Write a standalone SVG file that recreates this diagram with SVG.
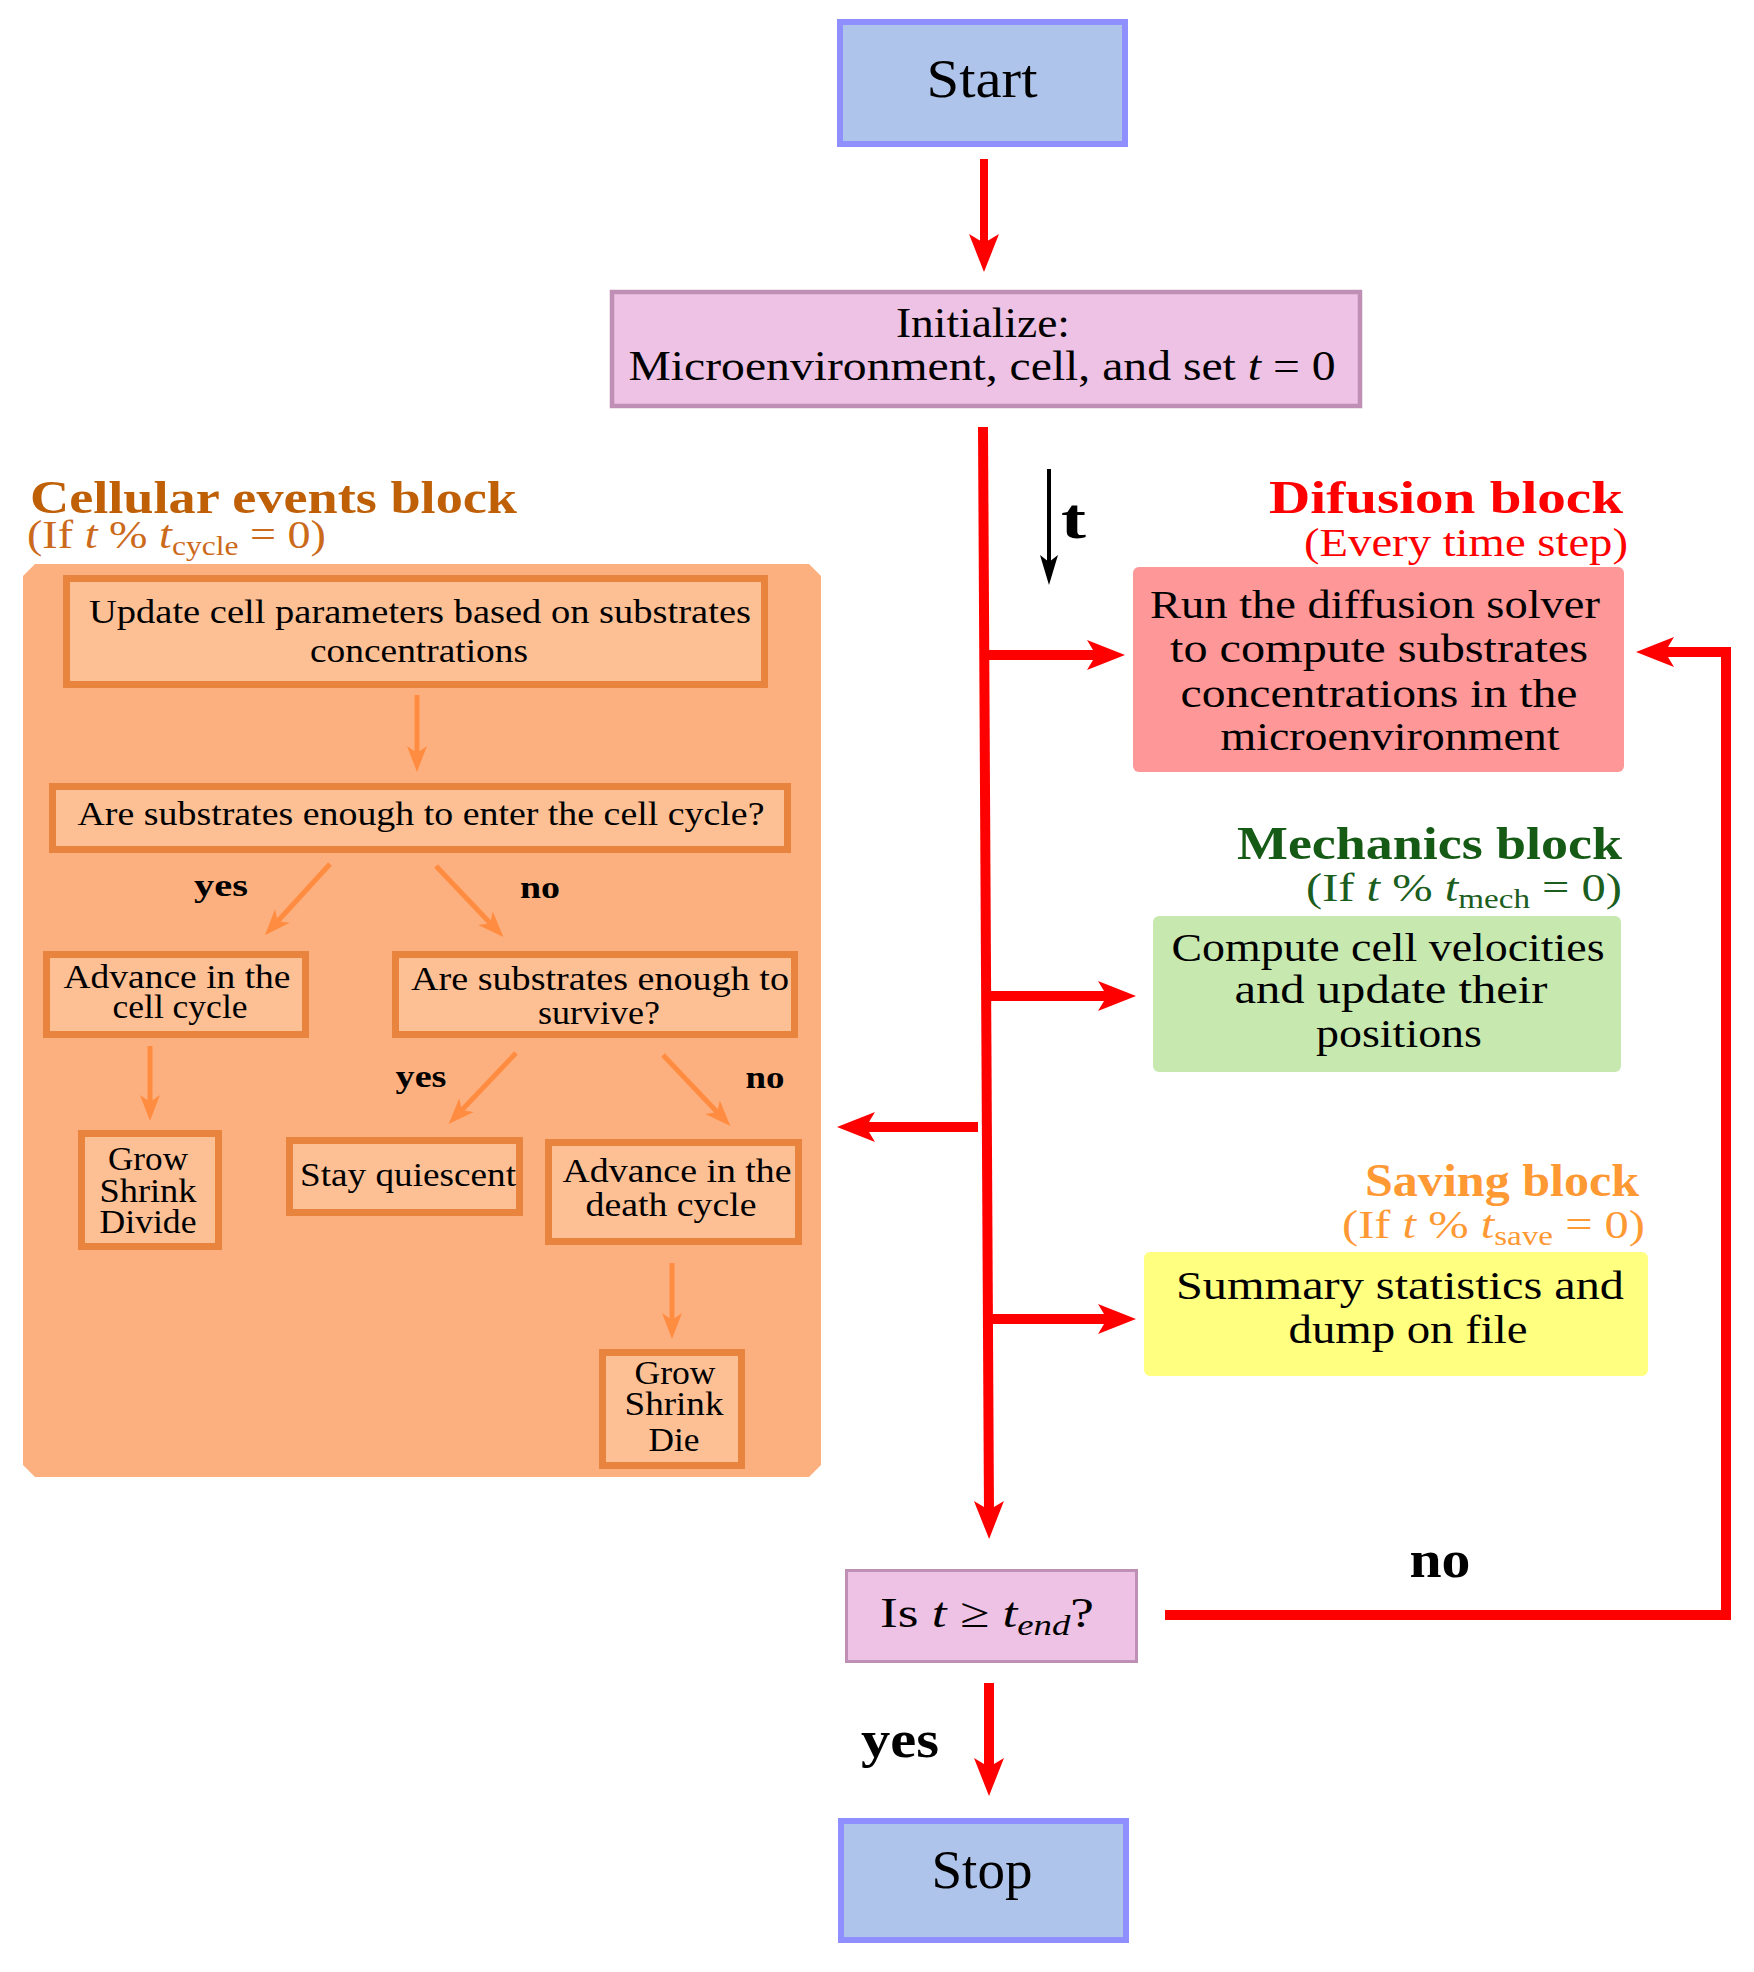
<svg xmlns="http://www.w3.org/2000/svg" width="1754" height="1972" viewBox="0 0 1754 1972">
<defs>
<style>
text{font-family:"Liberation Serif","Times New Roman",serif;fill:#000}
.m{text-anchor:middle}
.e{text-anchor:end}
.b{font-weight:bold}
.it{font-style:italic}
.term{fill:#afc4ea;stroke:#8f8fff;stroke-width:6}
.proc{fill:#eec2e4;stroke:#bf8fb5}
.inner{fill:#fdbf94;stroke:#e9843f;stroke-width:7}
.red{stroke:#ff0000;fill:none;stroke-width:10}
.oarr{stroke:#ff8c40;stroke-width:5;fill:none;marker-end:url(#oh)}
.big{font-size:40px}
.sm{font-size:34px}
.lab{font-size:32px;font-weight:bold}
</style>
<marker id="rh" markerUnits="userSpaceOnUse" markerWidth="40" markerHeight="30" refX="13" refY="15" orient="auto" overflow="visible">
<path d="M0,0 L38,15 L0,30 L9,15 Z" fill="#ff0000"/>
</marker>
<marker id="oh" markerUnits="userSpaceOnUse" markerWidth="26" markerHeight="20" refX="8" refY="10" orient="auto" overflow="visible">
<path d="M0,0 L26,10 L0,20 L7,10 Z" fill="#ff8c40"/>
</marker>
<marker id="kh" markerUnits="userSpaceOnUse" markerWidth="30" markerHeight="18" refX="10" refY="9" orient="auto" overflow="visible">
<path d="M0,0 L30,9 L0,18 L7,9 Z" fill="#000"/>
</marker>
</defs>
<rect width="1754" height="1972" fill="#fff"/>

<g id="cellular-block">
<path d="M35,564 H809 L821,576 V1465 L809,1477 H35 L23,1465 V576 Z" fill="#fdb07f"/>
<text x="30" y="513" font-size="46" class="b" fill="#bf5f06" style="fill:#bf5f06" textLength="487" lengthAdjust="spacingAndGlyphs">Cellular events block</text>
<text x="27" y="548" font-size="41" style="fill:#cc6a1c" textLength="299" lengthAdjust="spacingAndGlyphs">(If <tspan class="it">t</tspan> % <tspan class="it">t</tspan><tspan font-size="28" dy="7">cycle</tspan><tspan dy="-7"> = 0)</tspan></text>
</g>

<g id="connectors">
<line x1="984" y1="159" x2="984" y2="247" stroke="#ff0000" stroke-width="8" marker-end="url(#rh)"/>
<line class="red" x1="983" y1="427" x2="989" y2="1514" marker-end="url(#rh)"/>
<line class="red" x1="988" y1="655" x2="1100" y2="655" marker-end="url(#rh)"/>
<line class="red" x1="990" y1="996" x2="1111" y2="996" marker-end="url(#rh)"/>
<line class="red" x1="990" y1="1319" x2="1111" y2="1319" marker-end="url(#rh)"/>
<line class="red" x1="978" y1="1127" x2="862" y2="1127" marker-end="url(#rh)"/>
<path class="red" d="M1165,1615 H1726 V652 H1661" stroke-width="11" marker-end="url(#rh)"/>
<line class="red" x1="989" y1="1683" x2="989" y2="1771" marker-end="url(#rh)"/>
<line x1="1049" y1="469" x2="1049" y2="565" stroke="#000" stroke-width="4" marker-end="url(#kh)"/>
<line class="oarr" x1="417" y1="695" x2="417" y2="754"/>
<line class="oarr" x1="330" y1="864" x2="277" y2="922"/>
<line class="oarr" x1="436" y1="866" x2="491" y2="924"/>
<line class="oarr" x1="150" y1="1046" x2="150" y2="1103"/>
<line class="oarr" x1="516" y1="1053" x2="461" y2="1111"/>
<line class="oarr" x1="663" y1="1055" x2="718" y2="1113"/>
<line class="oarr" x1="672" y1="1263" x2="672" y2="1321"/>
<text x="1061" y="538" font-size="58" class="b" textLength="25" lengthAdjust="spacingAndGlyphs">t</text>
<text x="1440" y="1577" font-size="52" class="b m" textLength="61" lengthAdjust="spacingAndGlyphs">no</text>
<text x="900" y="1757" font-size="52" class="b m" textLength="78" lengthAdjust="spacingAndGlyphs">yes</text>
<text x="221" y="896" class="lab m" textLength="54" lengthAdjust="spacingAndGlyphs">yes</text>
<text x="540" y="898" class="lab m" textLength="40" lengthAdjust="spacingAndGlyphs">no</text>
<text x="421" y="1087" class="lab m" textLength="51" lengthAdjust="spacingAndGlyphs">yes</text>
<text x="765" y="1088" class="lab m" textLength="39" lengthAdjust="spacingAndGlyphs">no</text>
</g>

<g id="start">
<rect class="term" x="840" y="22" width="285" height="122"/>
<text class="m" x="982" y="97" font-size="54" textLength="111" lengthAdjust="spacingAndGlyphs">Start</text>
</g>

<g id="initialize">
<rect class="proc" x="612" y="292" width="748" height="114" stroke-width="4.5"/>
<text class="m" x="983" y="337" font-size="42" textLength="174" lengthAdjust="spacingAndGlyphs">Initialize:</text>
<text class="m" x="982" y="380" font-size="42" textLength="707" lengthAdjust="spacingAndGlyphs">Microenvironment, cell, and set <tspan class="it">t</tspan> = 0</text>
</g>

<g id="diffusion">
<text class="e b" x="1623" y="513" font-size="46" style="fill:#ff0000" textLength="354" lengthAdjust="spacingAndGlyphs">Difusion block</text>
<text class="e" x="1628" y="556" font-size="41" style="fill:#ff0000" textLength="324" lengthAdjust="spacingAndGlyphs">(Every time step)</text>
<rect x="1133" y="567" width="491" height="205" rx="6" fill="#fe9797"/>
<text class="m big" x="1375" y="618" textLength="450" lengthAdjust="spacingAndGlyphs">Run the diffusion solver</text>
<text class="m big" x="1379" y="662" textLength="418" lengthAdjust="spacingAndGlyphs">to compute substrates</text>
<text class="m big" x="1379" y="707" textLength="397" lengthAdjust="spacingAndGlyphs">concentrations in the</text>
<text class="m big" x="1390" y="750" textLength="339" lengthAdjust="spacingAndGlyphs">microenvironment</text>
</g>

<g id="mechanics">
<text class="e b" x="1622" y="859" font-size="46" style="fill:#155a15" textLength="385" lengthAdjust="spacingAndGlyphs">Mechanics block</text>
<text class="e" x="1622" y="901" font-size="41" style="fill:#1b5e20" textLength="316" lengthAdjust="spacingAndGlyphs">(If <tspan class="it">t</tspan> % <tspan class="it">t</tspan><tspan font-size="28" dy="7">mech</tspan><tspan dy="-7"> = 0)</tspan></text>
<rect x="1153" y="916" width="468" height="156" rx="6" fill="#c7e9b0"/>
<text class="m big" x="1388" y="961" textLength="433" lengthAdjust="spacingAndGlyphs">Compute cell velocities</text>
<text class="m big" x="1391" y="1003" textLength="313" lengthAdjust="spacingAndGlyphs">and update their</text>
<text class="m big" x="1399" y="1047" textLength="166" lengthAdjust="spacingAndGlyphs">positions</text>
</g>

<g id="saving">
<text class="e b" x="1639" y="1196" font-size="46" style="fill:#ff9933" textLength="274" lengthAdjust="spacingAndGlyphs">Saving block</text>
<text class="e" x="1645" y="1238" font-size="41" style="fill:#ff9933" textLength="303" lengthAdjust="spacingAndGlyphs">(If <tspan class="it">t</tspan> % <tspan class="it">t</tspan><tspan font-size="28" dy="7">save</tspan><tspan dy="-7"> = 0)</tspan></text>
<rect x="1144" y="1252" width="504" height="124" rx="6" fill="#ffff80"/>
<text class="m big" x="1400" y="1299" textLength="448" lengthAdjust="spacingAndGlyphs">Summary statistics and</text>
<text class="m big" x="1408" y="1343" textLength="239" lengthAdjust="spacingAndGlyphs">dump on file</text>
</g>

<g id="update-params">
<rect class="inner" x="66.5" y="578.5" width="698" height="106"/>
<text class="m sm" x="420" y="623" textLength="662" lengthAdjust="spacingAndGlyphs">Update cell parameters based on substrates</text>
<text class="m sm" x="419" y="662" textLength="218" lengthAdjust="spacingAndGlyphs">concentrations</text>
</g>

<g id="enter-cycle-question">
<rect class="inner" x="52.5" y="786.5" width="735" height="63"/>
<text class="m sm" x="421" y="825" textLength="687" lengthAdjust="spacingAndGlyphs">Are substrates enough to enter the cell cycle?</text>
</g>

<g id="advance-cell-cycle">
<rect class="inner" x="46.5" y="954.5" width="259" height="80"/>
<text class="m sm" x="177" y="988" textLength="227" lengthAdjust="spacingAndGlyphs">Advance in the</text>
<text class="m sm" x="180" y="1018" textLength="135" lengthAdjust="spacingAndGlyphs">cell cycle</text>
</g>

<g id="survive-question">
<rect class="inner" x="395.5" y="954.5" width="399" height="80"/>
<text class="m sm" x="600" y="990" textLength="378" lengthAdjust="spacingAndGlyphs">Are substrates enough to</text>
<text class="m sm" x="599" y="1024" textLength="122" lengthAdjust="spacingAndGlyphs">survive?</text>
</g>

<g id="grow-divide">
<rect class="inner" x="81.5" y="1133.5" width="137" height="113"/>
<text class="m sm" x="148" y="1170" textLength="80" lengthAdjust="spacingAndGlyphs">Grow</text>
<text class="m sm" x="148" y="1202" textLength="97" lengthAdjust="spacingAndGlyphs">Shrink</text>
<text class="m sm" x="148" y="1233" textLength="97" lengthAdjust="spacingAndGlyphs">Divide</text>
</g>

<g id="stay-quiescent">
<rect class="inner" x="289.5" y="1140.5" width="230" height="72"/>
<text class="m sm" x="408" y="1186" textLength="216" lengthAdjust="spacingAndGlyphs">Stay quiescent</text>
</g>

<g id="advance-death-cycle">
<rect class="inner" x="548.5" y="1142.5" width="250" height="99"/>
<text class="m sm" x="677" y="1182" textLength="229" lengthAdjust="spacingAndGlyphs">Advance in the</text>
<text class="m sm" x="671" y="1216" textLength="171" lengthAdjust="spacingAndGlyphs">death cycle</text>
</g>

<g id="grow-die">
<rect class="inner" x="602.5" y="1352.5" width="139" height="113"/>
<text class="m sm" x="675" y="1384" textLength="81" lengthAdjust="spacingAndGlyphs">Grow</text>
<text class="m sm" x="674" y="1415" textLength="99" lengthAdjust="spacingAndGlyphs">Shrink</text>
<text class="m sm" x="674" y="1451" textLength="51" lengthAdjust="spacingAndGlyphs">Die</text>
</g>

<g id="end-question">
<rect class="proc" x="846.5" y="1570.5" width="290" height="91" stroke-width="3"/>
<text class="m" x="987" y="1627" font-size="42" textLength="214" lengthAdjust="spacingAndGlyphs">Is <tspan class="it">t</tspan> ≥ <tspan class="it">t</tspan><tspan class="it" font-size="29" dy="8">end</tspan><tspan dy="-8">?</tspan></text>
</g>

<g id="stop">
<rect class="term" x="841" y="1821" width="285" height="119"/>
<text class="m" x="982" y="1888" font-size="54" textLength="101" lengthAdjust="spacingAndGlyphs">Stop</text>
</g>
</svg>
